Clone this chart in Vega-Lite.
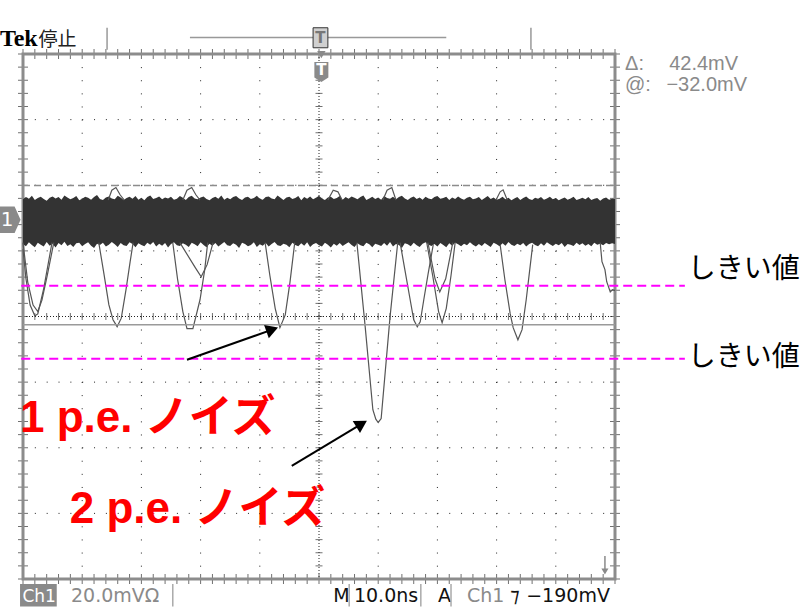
{
 "$schema": "https://vega.github.io/schema/vega-lite/v6.json",
 "width": 592, "height": 525,
 "autosize": {"type": "none"},
 "padding": {"left": 23, "top": 54, "right": 189, "bottom": 28},
 "background": "#ffffff",
 "config": {"view": {"stroke": null}},
 "datasets": {
  "band": [
   {"t":-50,"hi":6.2,"lo":-7.4},{"t":-49.5,"hi":6.9,"lo":-8.1},{"t":-49,"hi":6.4,"lo":-6.9},{"t":-48.5,"hi":7.3,"lo":-7.7},{"t":-48,"hi":6.0,"lo":-8.4},{"t":-47.5,"hi":6.6,"lo":-7.0},{"t":-47,"hi":7.0,"lo":-7.6},{"t":-46.5,"hi":6.3,"lo":-8.2},{"t":-46,"hi":5.8,"lo":-6.8},{"t":-45.5,"hi":6.7,"lo":-7.9},
   {"t":-45,"hi":7.1,"lo":-7.3},{"t":-44.5,"hi":6.5,"lo":-8.5},{"t":-44,"hi":6.9,"lo":-7.1},{"t":-43.5,"hi":6.1,"lo":-7.8},{"t":-43,"hi":7.4,"lo":-6.7},{"t":-42.5,"hi":6.8,"lo":-8.0},{"t":-42,"hi":6.2,"lo":-7.5},{"t":-41.5,"hi":6.6,"lo":-8.3},{"t":-41,"hi":7.2,"lo":-7.2},{"t":-40.5,"hi":5.9,"lo":-7.0},
   {"t":-40,"hi":6.4,"lo":-8.1},{"t":-39.5,"hi":7.0,"lo":-7.4},{"t":-39,"hi":6.7,"lo":-6.9},{"t":-38.5,"hi":6.1,"lo":-7.9},{"t":-38,"hi":6.9,"lo":-8.6},{"t":-37.5,"hi":7.5,"lo":-7.3},{"t":-37,"hi":6.3,"lo":-7.7},{"t":-36.5,"hi":6.0,"lo":-7.0},{"t":-36,"hi":6.8,"lo":-8.2},{"t":-35.5,"hi":7.1,"lo":-7.6},
   {"t":-35,"hi":6.5,"lo":-6.8},{"t":-34.5,"hi":6.2,"lo":-7.5},{"t":-34,"hi":7.3,"lo":-8.3},{"t":-33.5,"hi":6.8,"lo":-7.1},{"t":-33,"hi":6.0,"lo":-7.8},{"t":-32.5,"hi":6.6,"lo":-8.0},{"t":-32,"hi":7.0,"lo":-6.9},{"t":-31.5,"hi":6.4,"lo":-7.4},{"t":-31,"hi":7.2,"lo":-8.4},{"t":-30.5,"hi":6.1,"lo":-7.2},
   {"t":-30,"hi":6.7,"lo":-7.7},{"t":-29.5,"hi":5.9,"lo":-8.1},{"t":-29,"hi":6.9,"lo":-7.0},{"t":-28.5,"hi":7.4,"lo":-7.6},{"t":-28,"hi":6.3,"lo":-6.8},{"t":-27.5,"hi":6.6,"lo":-8.2},{"t":-27,"hi":7.1,"lo":-7.3},{"t":-26.5,"hi":6.2,"lo":-7.9},{"t":-26,"hi":6.8,"lo":-7.1},{"t":-25.5,"hi":6.5,"lo":-8.5},
   {"t":-25,"hi":7.0,"lo":-7.4},{"t":-24.5,"hi":6.1,"lo":-6.9},{"t":-24,"hi":6.4,"lo":-7.8},{"t":-23.5,"hi":7.2,"lo":-8.0},{"t":-23,"hi":6.7,"lo":-7.2},{"t":-22.5,"hi":6.0,"lo":-7.6},{"t":-22,"hi":6.9,"lo":-8.3},{"t":-21.5,"hi":7.3,"lo":-7.0},{"t":-21,"hi":6.5,"lo":-7.5},{"t":-20.5,"hi":6.2,"lo":-8.1},
   {"t":-20,"hi":6.8,"lo":-6.9},{"t":-19.5,"hi":7.1,"lo":-7.7},{"t":-19,"hi":6.3,"lo":-8.4},{"t":-18.5,"hi":5.9,"lo":-7.3},{"t":-18,"hi":6.6,"lo":-7.9},{"t":-17.5,"hi":7.0,"lo":-7.1},{"t":-17,"hi":6.4,"lo":-8.2},{"t":-16.5,"hi":7.4,"lo":-7.5},{"t":-16,"hi":6.1,"lo":-6.8},{"t":-15.5,"hi":6.7,"lo":-7.8},
   {"t":-15,"hi":6.2,"lo":-8.0},{"t":-14.5,"hi":6.9,"lo":-7.2},{"t":-14,"hi":7.2,"lo":-7.6},{"t":-13.5,"hi":6.5,"lo":-8.6},{"t":-13,"hi":6.0,"lo":-7.0},{"t":-12.5,"hi":6.8,"lo":-7.4},{"t":-12,"hi":7.0,"lo":-8.1},{"t":-11.5,"hi":6.3,"lo":-7.7},{"t":-11,"hi":6.6,"lo":-6.9},{"t":-10.5,"hi":7.3,"lo":-8.3},
   {"t":-10,"hi":6.4,"lo":-7.5},{"t":-9.5,"hi":6.1,"lo":-7.9},{"t":-9,"hi":6.9,"lo":-7.1},{"t":-8.5,"hi":7.1,"lo":-8.2},{"t":-8,"hi":6.5,"lo":-7.4},{"t":-7.5,"hi":6.2,"lo":-6.8},{"t":-7,"hi":7.4,"lo":-7.8},{"t":-6.5,"hi":6.7,"lo":-8.0},{"t":-6,"hi":6.0,"lo":-7.3},{"t":-5.5,"hi":6.8,"lo":-7.6},
   {"t":-5,"hi":7.0,"lo":-8.4},{"t":-4.5,"hi":6.3,"lo":-7.0},{"t":-4,"hi":6.6,"lo":-7.7},{"t":-3.5,"hi":7.2,"lo":-8.1},{"t":-3,"hi":5.9,"lo":-7.2},{"t":-2.5,"hi":6.9,"lo":-7.9},{"t":-2,"hi":6.4,"lo":-6.9},{"t":-1.5,"hi":7.1,"lo":-8.3},{"t":-1,"hi":6.2,"lo":-7.5},{"t":-0.5,"hi":6.7,"lo":-7.1},
   {"t":0,"hi":7.3,"lo":-7.8},{"t":0.5,"hi":6.5,"lo":-8.2},{"t":1,"hi":6.0,"lo":-7.0},{"t":1.5,"hi":6.8,"lo":-7.6},{"t":2,"hi":7.0,"lo":-8.5},{"t":2.5,"hi":6.3,"lo":-7.3},{"t":3,"hi":6.6,"lo":-7.9},{"t":3.5,"hi":7.2,"lo":-7.1},{"t":4,"hi":6.1,"lo":-8.0},{"t":4.5,"hi":6.9,"lo":-7.4},
   {"t":5,"hi":6.4,"lo":-6.9},{"t":5.5,"hi":7.1,"lo":-7.7},{"t":6,"hi":6.7,"lo":-8.3},{"t":6.5,"hi":6.2,"lo":-7.2},{"t":7,"hi":6.9,"lo":-7.8},{"t":7.5,"hi":7.4,"lo":-8.1},{"t":8,"hi":6.0,"lo":-7.0},{"t":8.5,"hi":6.5,"lo":-7.5},{"t":9,"hi":7.0,"lo":-8.4},{"t":9.5,"hi":6.3,"lo":-7.3},
   {"t":10,"hi":6.8,"lo":-7.6},{"t":10.5,"hi":6.1,"lo":-8.0},{"t":11,"hi":7.2,"lo":-7.1},{"t":11.5,"hi":6.6,"lo":-7.9},{"t":12,"hi":6.4,"lo":-6.8},{"t":12.5,"hi":7.0,"lo":-8.2},{"t":13,"hi":6.2,"lo":-7.4},{"t":13.5,"hi":6.9,"lo":-7.7},{"t":14,"hi":7.3,"lo":-8.6},{"t":14.5,"hi":6.5,"lo":-7.2},
   {"t":15,"hi":6.0,"lo":-7.5},{"t":15.5,"hi":6.7,"lo":-8.1},{"t":16,"hi":7.1,"lo":-7.0},{"t":16.5,"hi":6.3,"lo":-7.8},{"t":17,"hi":6.8,"lo":-8.3},{"t":17.5,"hi":6.1,"lo":-7.3},{"t":18,"hi":7.0,"lo":-6.9},{"t":18.5,"hi":6.5,"lo":-7.6},{"t":19,"hi":6.2,"lo":-8.0},{"t":19.5,"hi":6.9,"lo":-7.4},
   {"t":20,"hi":7.2,"lo":-8.2},{"t":20.5,"hi":6.4,"lo":-7.1},{"t":21,"hi":6.6,"lo":-7.7},{"t":21.5,"hi":7.0,"lo":-8.4},{"t":22,"hi":6.0,"lo":-7.2},{"t":22.5,"hi":6.8,"lo":-7.9},{"t":23,"hi":6.3,"lo":-7.0},{"t":23.5,"hi":7.1,"lo":-7.5},{"t":24,"hi":6.5,"lo":-8.1},{"t":24.5,"hi":6.1,"lo":-7.3},
   {"t":25,"hi":6.7,"lo":-7.8},{"t":25.5,"hi":7.0,"lo":-6.9},{"t":26,"hi":6.2,"lo":-7.6},{"t":26.5,"hi":6.5,"lo":-8.2},{"t":27,"hi":6.9,"lo":-7.4},{"t":27.5,"hi":6.0,"lo":-8.0},{"t":28,"hi":6.6,"lo":-7.1},{"t":28.5,"hi":7.2,"lo":-7.7},{"t":29,"hi":6.3,"lo":-8.3},{"t":29.5,"hi":6.8,"lo":-7.0},
   {"t":30,"hi":6.1,"lo":-7.5},{"t":30.5,"hi":6.4,"lo":-8.1},{"t":31,"hi":7.0,"lo":-7.2},{"t":31.5,"hi":6.2,"lo":-7.9},{"t":32,"hi":6.7,"lo":-6.8},{"t":32.5,"hi":5.9,"lo":-7.6},{"t":33,"hi":6.5,"lo":-8.0},{"t":33.5,"hi":6.9,"lo":-7.3},{"t":34,"hi":6.0,"lo":-7.8},{"t":34.5,"hi":6.6,"lo":-7.1},
   {"t":35,"hi":7.1,"lo":-8.2},{"t":35.5,"hi":6.3,"lo":-7.4},{"t":36,"hi":6.0,"lo":-7.0},{"t":36.5,"hi":6.7,"lo":-7.7},{"t":37,"hi":6.4,"lo":-8.1},{"t":37.5,"hi":6.9,"lo":-7.2},{"t":38,"hi":6.1,"lo":-7.9},{"t":38.5,"hi":6.5,"lo":-6.9},{"t":39,"hi":7.0,"lo":-7.5},{"t":39.5,"hi":6.2,"lo":-8.0},
   {"t":40,"hi":6.6,"lo":-7.3},{"t":40.5,"hi":5.9,"lo":-7.8},{"t":41,"hi":6.4,"lo":-7.1},{"t":41.5,"hi":6.8,"lo":-8.3},{"t":42,"hi":6.1,"lo":-7.4},{"t":42.5,"hi":6.5,"lo":-7.6},{"t":43,"hi":7.0,"lo":-8.0},{"t":43.5,"hi":6.0,"lo":-7.0},{"t":44,"hi":6.3,"lo":-7.7},{"t":44.5,"hi":6.7,"lo":-7.2},
   {"t":45,"hi":6.2,"lo":-7.9},{"t":45.5,"hi":6.9,"lo":-7.4},{"t":46,"hi":6.0,"lo":-8.1},{"t":46.5,"hi":6.4,"lo":-7.0},{"t":47,"hi":6.6,"lo":-7.6},{"t":47.5,"hi":5.8,"lo":-7.3},{"t":48,"hi":6.5,"lo":-7.8},{"t":48.5,"hi":6.8,"lo":-7.1},{"t":49,"hi":6.1,"lo":-7.5},{"t":49.5,"hi":6.4,"lo":-7.2},
   {"t":50,"hi":6.3,"lo":-7.4}
  ],
  "pulses": [
   {"id":"A1","t":-50.0,"v":-9},{"id":"A1","t":-49.5,"v":-18},{"id":"A1","t":-48.8,"v":-26},{"id":"A1","t":-48.0,"v":-29.3},{"id":"A1","t":-47.5,"v":-28.7},{"id":"A1","t":-46.5,"v":-21},{"id":"A1","t":-45.8,"v":-14},{"id":"A1","t":-45.1,"v":-7},
   {"id":"A2","t":-50.0,"v":-7},{"id":"A2","t":-49.2,"v":-19},{"id":"A2","t":-48.3,"v":-26},{"id":"A2","t":-47.5,"v":-28},{"id":"A2","t":-46.8,"v":-24.5},{"id":"A2","t":-45.9,"v":-17},{"id":"A2","t":-44.8,"v":-7},
   {"id":"B","t":-37.2,"v":-7},{"id":"B","t":-36.3,"v":-16.8},{"id":"B","t":-35.5,"v":-25.9},{"id":"B","t":-34.8,"v":-30.5},{"id":"B","t":-34.1,"v":-32.6},{"id":"B","t":-33.4,"v":-30},{"id":"B","t":-32.6,"v":-21.3},{"id":"B","t":-31.9,"v":-12.8},{"id":"B","t":-31.4,"v":-7},
   {"id":"C","t":-24.7,"v":-7},{"id":"C","t":-23.9,"v":-18},{"id":"C","t":-23.0,"v":-28},{"id":"C","t":-22.3,"v":-33.2},{"id":"C","t":-21.3,"v":-33.2},{"id":"C","t":-20.1,"v":-24.4},{"id":"C","t":-19.3,"v":-15.2},{"id":"C","t":-18.8,"v":-7},
   {"id":"C2","t":-23.5,"v":-7},{"id":"C2","t":-20.9,"v":-14.6},{"id":"C2","t":-19.9,"v":-17.4},{"id":"C2","t":-18.9,"v":-13.7},{"id":"C2","t":-17.9,"v":-7},
   {"id":"D","t":-9.1,"v":-7},{"id":"D","t":-8.3,"v":-17},{"id":"D","t":-7.4,"v":-27},{"id":"D","t":-6.6,"v":-32.9},{"id":"D","t":-5.7,"v":-29},{"id":"D","t":-4.9,"v":-19},{"id":"D","t":-4.1,"v":-7},
   {"id":"E","t":6.4,"v":-7},{"id":"E","t":7.8,"v":-32.6},{"id":"E","t":9.1,"v":-57.9},{"id":"E","t":9.6,"v":-60.8},{"id":"E","t":10.0,"v":-61.8},{"id":"E","t":10.5,"v":-60.6},{"id":"E","t":12.0,"v":-29.6},{"id":"E","t":13.3,"v":-7},
   {"id":"F","t":13.7,"v":-7},{"id":"F","t":14.5,"v":-15.2},{"id":"F","t":15.4,"v":-24.4},{"id":"F","t":16.0,"v":-30.5},{"id":"F","t":16.6,"v":-32.6},{"id":"F","t":17.1,"v":-31.1},{"id":"F","t":17.7,"v":-24.4},{"id":"F","t":18.4,"v":-16.8},{"id":"F","t":19.3,"v":-7.6},
   {"id":"G","t":18.2,"v":-7},{"id":"G","t":19.2,"v":-17},{"id":"G","t":20.2,"v":-28},{"id":"G","t":20.8,"v":-31.4},{"id":"G","t":21.5,"v":-27},{"id":"G","t":22.3,"v":-17},{"id":"G","t":23.0,"v":-7},
   {"id":"G2","t":18.4,"v":-7},{"id":"G2","t":19.6,"v":-18},{"id":"G2","t":20.4,"v":-22.0},{"id":"G2","t":21.4,"v":-18},{"id":"G2","t":22.6,"v":-7},
   {"id":"H","t":30.6,"v":-7.6},{"id":"H","t":31.4,"v":-18.3},{"id":"H","t":32.3,"v":-28.7},{"id":"H","t":32.8,"v":-32.9},{"id":"H","t":33.6,"v":-36.6},{"id":"H","t":34.3,"v":-33.5},{"id":"H","t":35.0,"v":-24.4},{"id":"H","t":35.6,"v":-15.2},{"id":"H","t":36.1,"v":-7.6},
   {"id":"I","t":47.5,"v":-7},{"id":"I","t":47.8,"v":-12.8},{"id":"I","t":48.3,"v":-15.2},{"id":"I","t":48.6,"v":-18.9},{"id":"I","t":49.2,"v":-22.0},{"id":"I","t":49.6,"v":-21.3},{"id":"I","t":50.0,"v":-21.6},
   {"id":"b1","t":-35.6,"v":6},{"id":"b1","t":-35.0,"v":9},{"id":"b1","t":-34.3,"v":9.8},{"id":"b1","t":-33.6,"v":7.6},{"id":"b1","t":-32.9,"v":6},
   {"id":"b2","t":-23.0,"v":6},{"id":"b2","t":-22.3,"v":9},{"id":"b2","t":-21.5,"v":9.8},{"id":"b2","t":-20.8,"v":7.6},{"id":"b2","t":-20.1,"v":6},
   {"id":"b3","t":1.5,"v":6},{"id":"b3","t":2.4,"v":9},{"id":"b3","t":3.2,"v":8.5},{"id":"b3","t":3.9,"v":6},
   {"id":"b4","t":10.8,"v":6},{"id":"b4","t":11.5,"v":9},{"id":"b4","t":12.3,"v":9.8},{"id":"b4","t":13.0,"v":6},
   {"id":"b5","t":29.9,"v":6},{"id":"b5","t":30.6,"v":8.5},{"id":"b5","t":31.1,"v":9.1},{"id":"b5","t":31.8,"v":6}
  ],
  "minorT": [
   {"t":-50},{"t":-48},{"t":-46},{"t":-44},{"t":-42},{"t":-40},{"t":-38},{"t":-36},{"t":-34},{"t":-32},
   {"t":-30},{"t":-28},{"t":-26},{"t":-24},{"t":-22},{"t":-20},{"t":-18},{"t":-16},{"t":-14},{"t":-12},
   {"t":-10},{"t":-8},{"t":-6},{"t":-4},{"t":-2},{"t":0},{"t":2},{"t":4},{"t":6},{"t":8},
   {"t":10},{"t":12},{"t":14},{"t":16},{"t":18},{"t":20},{"t":22},{"t":24},{"t":26},{"t":28},
   {"t":30},{"t":32},{"t":34},{"t":36},{"t":38},{"t":40},{"t":42},{"t":44},{"t":46},{"t":48},{"t":50}
  ],
  "minorV": [
   {"v":50.5},{"v":46.5},{"v":42.5},{"v":38.5},{"v":34.5},{"v":30.5},{"v":26.5},{"v":22.5},{"v":18.5},{"v":14.5},
   {"v":10.5},{"v":6.5},{"v":2.5},{"v":-1.5},{"v":-5.5},{"v":-9.5},{"v":-13.5},{"v":-17.5},{"v":-21.5},{"v":-25.5},
   {"v":-29.5},{"v":-33.5},{"v":-37.5},{"v":-41.5},{"v":-45.5},{"v":-49.5},{"v":-53.5},{"v":-57.5},{"v":-61.5},{"v":-65.5},
   {"v":-69.5},{"v":-73.5},{"v":-77.5},{"v":-81.5},{"v":-85.5},{"v":-89.5},{"v":-93.5},{"v":-97.5},{"v":-101.5},{"v":-105.5},{"v":-109.5}
  ]
 },
 "layer": [
  {"data": {"values": [{"t":-40},{"t":-30},{"t":-20},{"t":-10},{"t":10},{"t":20},{"t":30},{"t":40}]},
   "mark": {"type":"rule","color":"#222222","strokeWidth":1,"strokeDash":[1,12.12]},
   "encoding": {"x":{"field":"t","type":"quantitative","scale":{"domain":[-50,50],"nice":false,"zero":false},"axis":null},
                "y":{"datum":50.5,"type":"quantitative","scale":{"domain":[-109.5,50.5],"nice":false,"zero":false},"axis":null},"y2":{"datum":-109.5}}},
  {"data": {"values": [{"t":0}]},
   "mark": {"type":"rule","color":"#222222","strokeWidth":1,"strokeDash":[1,2]},
   "encoding": {"x":{"field":"t","type":"quantitative","scale":{"domain":[-50,50],"nice":false,"zero":false},"axis":null},
                "y":{"datum":50.5,"type":"quantitative","scale":{"domain":[-109.5,50.5],"nice":false,"zero":false},"axis":null},"y2":{"datum":-109.5}}},
  {"data": {"values": [{"v":30.5},{"v":10.5},{"v":-9.5},{"v":-49.5},{"v":-69.5},{"v":-89.5}]},
   "mark": {"type":"rule","color":"#222222","strokeWidth":1,"strokeDash":[1,10.84]},
   "encoding": {"y":{"field":"v","type":"quantitative","scale":{"domain":[-109.5,50.5],"nice":false,"zero":false},"axis":null},
                "x":{"datum":-50,"type":"quantitative","scale":{"domain":[-50,50],"nice":false,"zero":false},"axis":null},"x2":{"datum":50}}},
  {"data": {"values": [{"v":-29.5}]},
   "mark": {"type":"rule","color":"#222222","strokeWidth":1,"strokeDash":[1,2]},
   "encoding": {"y":{"field":"v","type":"quantitative","scale":{"domain":[-109.5,50.5],"nice":false,"zero":false},"axis":null},
                "x":{"datum":-50,"type":"quantitative","scale":{"domain":[-50,50],"nice":false,"zero":false},"axis":null},"x2":{"datum":50}}},
  {"data": {"name":"minorV"},
   "mark": {"type":"tick","orient":"horizontal","color":"#333333","size":10,"thickness":1},
   "encoding": {"y":{"field":"v","type":"quantitative","scale":{"domain":[-109.5,50.5],"nice":false,"zero":false},"axis":null},
                "x":{"datum":-50,"type":"quantitative","scale":{"domain":[-50,50],"nice":false,"zero":false},"axis":null}}},
  {"data": {"name":"minorV"},
   "mark": {"type":"tick","orient":"horizontal","color":"#333333","size":10,"thickness":1},
   "encoding": {"y":{"field":"v","type":"quantitative","scale":{"domain":[-109.5,50.5],"nice":false,"zero":false},"axis":null},
                "x":{"datum":50,"type":"quantitative","scale":{"domain":[-50,50],"nice":false,"zero":false},"axis":null}}},
  {"data": {"name":"minorV"},
   "mark": {"type":"tick","orient":"horizontal","color":"#333333","size":7,"thickness":1},
   "encoding": {"y":{"field":"v","type":"quantitative","scale":{"domain":[-109.5,50.5],"nice":false,"zero":false},"axis":null},
                "x":{"datum":0,"type":"quantitative","scale":{"domain":[-50,50],"nice":false,"zero":false},"axis":null}}},
  {"data": {"name":"minorT"},
   "mark": {"type":"tick","orient":"vertical","color":"#333333","size":10,"thickness":1},
   "encoding": {"x":{"field":"t","type":"quantitative","scale":{"domain":[-50,50],"nice":false,"zero":false},"axis":null},
                "y":{"datum":50.5,"type":"quantitative","scale":{"domain":[-109.5,50.5],"nice":false,"zero":false},"axis":null}}},
  {"data": {"name":"minorT"},
   "mark": {"type":"tick","orient":"vertical","color":"#333333","size":10,"thickness":1},
   "encoding": {"x":{"field":"t","type":"quantitative","scale":{"domain":[-50,50],"nice":false,"zero":false},"axis":null},
                "y":{"datum":-109.5,"type":"quantitative","scale":{"domain":[-109.5,50.5],"nice":false,"zero":false},"axis":null}}},
  {"data": {"name":"minorT"},
   "mark": {"type":"tick","orient":"vertical","color":"#333333","size":7,"thickness":1},
   "encoding": {"x":{"field":"t","type":"quantitative","scale":{"domain":[-50,50],"nice":false,"zero":false},"axis":null},
                "y":{"datum":-29.5,"type":"quantitative","scale":{"domain":[-109.5,50.5],"nice":false,"zero":false},"axis":null}}},
  {"data": {"values": [{}]},
   "mark": {"type":"rect","fillOpacity":0,"stroke":"#8c8c8c","strokeWidth":3},
   "encoding": {"x":{"datum":-50,"type":"quantitative","scale":{"domain":[-50,50],"nice":false,"zero":false},"axis":null},"x2":{"datum":50},
                "y":{"datum":50.5,"type":"quantitative","scale":{"domain":[-109.5,50.5],"nice":false,"zero":false},"axis":null},"y2":{"datum":-109.5}}},
  {"data": {"name":"band"},
   "mark": {"type":"area","color":"#333333","interpolate":"linear"},
   "encoding": {"x":{"field":"t","type":"quantitative","scale":{"domain":[-50,50],"nice":false,"zero":false},"axis":null},
                "y":{"field":"hi","type":"quantitative","scale":{"domain":[-109.5,50.5],"nice":false,"zero":false},"axis":null},
                "y2":{"field":"lo"}}},
  {"data": {"name":"pulses"},
   "mark": {"type":"line","color":"#555555","strokeWidth":1.2},
   "encoding": {"x":{"field":"t","type":"quantitative","scale":{"domain":[-50,50],"nice":false,"zero":false},"axis":null},
                "y":{"field":"v","type":"quantitative","scale":{"domain":[-109.5,50.5],"nice":false,"zero":false},"axis":null},
                "detail":{"field":"id","type":"nominal"}}},
  {"data": {"values": [{"v":10.4}]},
   "mark": {"type":"rule","color":"#8c8c8c","strokeWidth":1.5,"strokeDash":[7,4]},
   "encoding": {"y":{"field":"v","type":"quantitative","scale":{"domain":[-109.5,50.5],"nice":false,"zero":false},"axis":null},
                "x":{"datum":-50,"type":"quantitative","scale":{"domain":[-50,50],"nice":false,"zero":false},"axis":null},"x2":{"datum":50}}},
  {"data": {"values": [{"v":-32.0}]},
   "mark": {"type":"rule","color":"#9a9a9a","strokeWidth":1.5},
   "encoding": {"y":{"field":"v","type":"quantitative","scale":{"domain":[-109.5,50.5],"nice":false,"zero":false},"axis":null},
                "x":{"datum":-50,"type":"quantitative","scale":{"domain":[-50,50],"nice":false,"zero":false},"axis":null},"x2":{"datum":50}}},
  {"data": {"values": [{"v":-20.1},{"v":-42.4}]},
   "mark": {"type":"rule","color":"#ff00ff","strokeWidth":2,"strokeDash":[9,5]},
   "encoding": {"y":{"field":"v","type":"quantitative","scale":{"domain":[-109.5,50.5],"nice":false,"zero":false},"axis":null},
                "x":{"datum":-50.3,"type":"quantitative","scale":{"domain":[-50,50],"nice":false,"zero":false},"axis":null},"x2":{"datum":61.8}}},
  {"data": {"values": [{"id":"a1","t":-22.3,"v":-42.7},{"id":"a1","t":-7.9,"v":-33.5},{"id":"a2","t":-4.6,"v":-75.0},{"id":"a2","t":7.2,"v":-62.2}]},
   "mark": {"type":"line","color":"#000000","strokeWidth":2},
   "encoding": {"x":{"field":"t","type":"quantitative","scale":{"domain":[-50,50],"nice":false,"zero":false},"axis":null},
                "y":{"field":"v","type":"quantitative","scale":{"domain":[-109.5,50.5],"nice":false,"zero":false},"axis":null},
                "detail":{"field":"id","type":"nominal"}}},
  {"data": {"values": [{"t":-7.9,"v":-33.5}]},
   "mark": {"type":"point","shape":"triangle-up","filled":true,"color":"#000000","opacity":1,"size":200,"angle":70.6},
   "encoding": {"x":{"field":"t","type":"quantitative","scale":{"domain":[-50,50],"nice":false,"zero":false},"axis":null},
                "y":{"field":"v","type":"quantitative","scale":{"domain":[-109.5,50.5],"nice":false,"zero":false},"axis":null}}},
  {"data": {"values": [{"t":7.2,"v":-62.2}]},
   "mark": {"type":"point","shape":"triangle-up","filled":true,"color":"#000000","opacity":1,"size":200,"angle":59},
   "encoding": {"x":{"field":"t","type":"quantitative","scale":{"domain":[-50,50],"nice":false,"zero":false},"axis":null},
                "y":{"field":"v","type":"quantitative","scale":{"domain":[-109.5,50.5],"nice":false,"zero":false},"axis":null}}},
  {"data": {"values": [{"t":-50.5,"v":-64.6,"text":"1 p.e. ノイズ"},{"t":-42.1,"v":-92.4,"text":"2 p.e. ノイズ"}]},
   "mark": {"type":"text","align":"left","baseline":"alphabetic","color":"#ff0000","fontSize":44,"fontWeight":"bold","font":"Liberation Sans, Noto Sans CJK JP"},
   "encoding": {"x":{"field":"t","type":"quantitative","scale":{"domain":[-50,50],"nice":false,"zero":false},"axis":null},
                "y":{"field":"v","type":"quantitative","scale":{"domain":[-109.5,50.5],"nice":false,"zero":false},"axis":null},
                "text":{"field":"text"}}},
  {"data": {"values": [{"t":62.3,"v":-15.2,"text":"しきい値"},{"t":62.3,"v":-42.1,"text":"しきい値"}]},
   "mark": {"type":"text","align":"left","baseline":"middle","color":"#000000","fontSize":28,"font":"Noto Sans CJK JP"},
   "encoding": {"x":{"field":"t","type":"quantitative","scale":{"domain":[-50,50],"nice":false,"zero":false},"axis":null},
                "y":{"field":"v","type":"quantitative","scale":{"domain":[-109.5,50.5],"nice":false,"zero":false},"axis":null},
                "text":{"field":"text"}}},
  {"data": {"values": [{"t":-53.9,"v":52.9,"text":"Tek"}]},
   "mark": {"type":"text","align":"left","baseline":"alphabetic","color":"#000000","fontSize":24,"fontWeight":"bold","font":"Liberation Serif"},
   "encoding": {"x":{"field":"t","type":"quantitative","scale":{"domain":[-50,50],"nice":false,"zero":false},"axis":null},
                "y":{"field":"v","type":"quantitative","scale":{"domain":[-109.5,50.5],"nice":false,"zero":false},"axis":null},
                "text":{"field":"text"}}},
  {"data": {"values": [{"t":-47.4,"v":52.9,"text":"停止"}]},
   "mark": {"type":"text","align":"left","baseline":"alphabetic","color":"#222222","fontSize":19,"font":"Noto Sans CJK JP"},
   "encoding": {"x":{"field":"t","type":"quantitative","scale":{"domain":[-50,50],"nice":false,"zero":false},"axis":null},
                "y":{"field":"v","type":"quantitative","scale":{"domain":[-109.5,50.5],"nice":false,"zero":false},"axis":null},
                "text":{"field":"text"}}},
  {"data": {"values": [{"t":-35.8,"v":58.5,"v2":51.8},{"t":35.8,"v":58.5,"v2":51.8}]},
   "mark": {"type":"rule","color":"#999999","strokeWidth":1.5},
   "encoding": {"x":{"field":"t","type":"quantitative","scale":{"domain":[-50,50],"nice":false,"zero":false},"axis":null},
                "y":{"field":"v","type":"quantitative","scale":{"domain":[-109.5,50.5],"nice":false,"zero":false},"axis":null},"y2":{"field":"v2"}}},
  {"data": {"values": [{"t":-21.8,"t2":21.5,"v":55.5}]},
   "mark": {"type":"rule","color":"#999999","strokeWidth":1.5},
   "encoding": {"x":{"field":"t","type":"quantitative","scale":{"domain":[-50,50],"nice":false,"zero":false},"axis":null},"x2":{"field":"t2"},
                "y":{"field":"v","type":"quantitative","scale":{"domain":[-109.5,50.5],"nice":false,"zero":false},"axis":null}}},
  {"data": {"values": [{"t":-1.0,"t2":1.5,"v":58.5,"v2":52.4}]},
   "mark": {"type":"rect","fill":"#d0d0d0","stroke":"#333333","strokeWidth":1},
   "encoding": {"x":{"field":"t","type":"quantitative","scale":{"domain":[-50,50],"nice":false,"zero":false},"axis":null},"x2":{"field":"t2"},
                "y":{"field":"v","type":"quantitative","scale":{"domain":[-109.5,50.5],"nice":false,"zero":false},"axis":null},"y2":{"field":"v2"}}},
  {"data": {"values": [{"t":0.25,"v":55.4,"text":"T"}]},
   "mark": {"type":"text","align":"center","baseline":"middle","color":"#777777","fontSize":15,"fontWeight":"bold","font":"DejaVu Sans"},
   "encoding": {"x":{"field":"t","type":"quantitative","scale":{"domain":[-50,50],"nice":false,"zero":false},"axis":null},
                "y":{"field":"v","type":"quantitative","scale":{"domain":[-109.5,50.5],"nice":false,"zero":false},"axis":null},
                "text":{"field":"text"}}},
  {"data": {"values": [{"t":0.4,"v":50.3}]},
   "mark": {"type":"point","shape":"triangle-down","filled":true,"color":"#8a8a8a","opacity":1,"size":70},
   "encoding": {"x":{"field":"t","type":"quantitative","scale":{"domain":[-50,50],"nice":false,"zero":false},"axis":null},
                "y":{"field":"v","type":"quantitative","scale":{"domain":[-109.5,50.5],"nice":false,"zero":false},"axis":null}}},
  {"data": {"values": [{"t":0.4,"v":45.0}]},
   "mark": {"type":"point","shape":"M-0.7,-1 L0.7,-1 L0.7,0.55 L0,1 L-0.7,0.55 Z","filled":true,"color":"#8a8a8a","opacity":1,"size":400},
   "encoding": {"x":{"field":"t","type":"quantitative","scale":{"domain":[-50,50],"nice":false,"zero":false},"axis":null},
                "y":{"field":"v","type":"quantitative","scale":{"domain":[-109.5,50.5],"nice":false,"zero":false},"axis":null}}},
  {"data": {"values": [{"t":0.4,"v":45.6,"text":"T"}]},
   "mark": {"type":"text","align":"center","baseline":"middle","color":"#ffffff","fontSize":15,"fontWeight":"bold","font":"DejaVu Sans"},
   "encoding": {"x":{"field":"t","type":"quantitative","scale":{"domain":[-50,50],"nice":false,"zero":false},"axis":null},
                "y":{"field":"v","type":"quantitative","scale":{"domain":[-109.5,50.5],"nice":false,"zero":false},"axis":null},
                "text":{"field":"text"}}},
  {"data": {"values": [{"t":-52.2,"v":0}]},
   "mark": {"type":"point","shape":"M-0.8,-1 L0.35,-1 L0.8,0 L0.35,1 L-0.8,1 Z","filled":true,"color":"#8a8a8a","opacity":1,"size":700},
   "encoding": {"x":{"field":"t","type":"quantitative","scale":{"domain":[-50,50],"nice":false,"zero":false},"axis":null},
                "y":{"field":"v","type":"quantitative","scale":{"domain":[-109.5,50.5],"nice":false,"zero":false},"axis":null}}},
  {"data": {"values": [{"t":-52.7,"v":0,"text":"1"}]},
   "mark": {"type":"text","align":"center","baseline":"middle","color":"#ffffff","fontSize":20,"font":"DejaVu Sans"},
   "encoding": {"x":{"field":"t","type":"quantitative","scale":{"domain":[-50,50],"nice":false,"zero":false},"axis":null},
                "y":{"field":"v","type":"quantitative","scale":{"domain":[-109.5,50.5],"nice":false,"zero":false},"axis":null},
                "text":{"field":"text"}}},
  {"data": {"values": [{"t":51.7,"v":45.7,"text":"Δ:"},{"t":51.7,"v":39.3,"text":"@:"}]},
   "mark": {"type":"text","align":"left","baseline":"alphabetic","color":"#8a8a8a","fontSize":20,"font":"Liberation Sans"},
   "encoding": {"x":{"field":"t","type":"quantitative","scale":{"domain":[-50,50],"nice":false,"zero":false},"axis":null},
                "y":{"field":"v","type":"quantitative","scale":{"domain":[-109.5,50.5],"nice":false,"zero":false},"axis":null},
                "text":{"field":"text"}}},
  {"data": {"values": [{"t":70.8,"v":45.7,"text":"42.4mV"},{"t":72.3,"v":39.3,"text":"−32.0mV"}]},
   "mark": {"type":"text","align":"right","baseline":"alphabetic","color":"#8a8a8a","fontSize":20,"font":"Liberation Sans"},
   "encoding": {"x":{"field":"t","type":"quantitative","scale":{"domain":[-50,50],"nice":false,"zero":false},"axis":null},
                "y":{"field":"v","type":"quantitative","scale":{"domain":[-109.5,50.5],"nice":false,"zero":false},"axis":null},
                "text":{"field":"text"}}},
  {"data": {"values": [{"t":-50.5,"t2":-44.3,"v":-111.0,"v2":-117.9}]},
   "mark": {"type":"rect","fill":"#8a8a8a"},
   "encoding": {"x":{"field":"t","type":"quantitative","scale":{"domain":[-50,50],"nice":false,"zero":false},"axis":null},"x2":{"field":"t2"},
                "y":{"field":"v","type":"quantitative","scale":{"domain":[-109.5,50.5],"nice":false,"zero":false},"axis":null},"y2":{"field":"v2"}}},
  {"data": {"values": [{"t":-50.1,"v":-116.6,"text":"Ch1"}]},
   "mark": {"type":"text","align":"left","baseline":"alphabetic","color":"#ffffff","fontSize":17,"font":"DejaVu Sans"},
   "encoding": {"x":{"field":"t","type":"quantitative","scale":{"domain":[-50,50],"nice":false,"zero":false},"axis":null},
                "y":{"field":"v","type":"quantitative","scale":{"domain":[-109.5,50.5],"nice":false,"zero":false},"axis":null},
                "text":{"field":"text"}}},
  {"data": {"values": [{"t":-41.9,"v":-116.6,"text":"20.0mVΩ"},{"t":25.0,"v":-116.6,"text":"Ch1"}]},
   "mark": {"type":"text","align":"left","baseline":"alphabetic","color":"#8a8a8a","fontSize":19,"font":"DejaVu Sans"},
   "encoding": {"x":{"field":"t","type":"quantitative","scale":{"domain":[-50,50],"nice":false,"zero":false},"axis":null},
                "y":{"field":"v","type":"quantitative","scale":{"domain":[-109.5,50.5],"nice":false,"zero":false},"axis":null},
                "text":{"field":"text"}}},
  {"data": {"values": [{"t":2.4,"v":-116.6,"text":"M"},{"t":5.9,"v":-116.6,"text":"10.0ns"},{"t":20.1,"v":-116.6,"text":"A"},{"t":32.3,"v":-116.6,"text":"⁊"},{"t":35.0,"v":-116.6,"text":"−190mV"}]},
   "mark": {"type":"text","align":"left","baseline":"alphabetic","color":"#111111","fontSize":19,"font":"DejaVu Sans"},
   "encoding": {"x":{"field":"t","type":"quantitative","scale":{"domain":[-50,50],"nice":false,"zero":false},"axis":null},
                "y":{"field":"v","type":"quantitative","scale":{"domain":[-109.5,50.5],"nice":false,"zero":false},"axis":null},
                "text":{"field":"text"}}},
  {"data": {"values": [{"t":-24.7,"v":-111.0,"v2":-117.9},{"t":5.1,"v":-111.0,"v2":-117.9},{"t":17.2,"v":-111.0,"v2":-117.9},{"t":22.3,"v":-111.0,"v2":-117.9}]},
   "mark": {"type":"rule","color":"#aaaaaa","strokeWidth":1.5},
   "encoding": {"x":{"field":"t","type":"quantitative","scale":{"domain":[-50,50],"nice":false,"zero":false},"axis":null},
                "y":{"field":"v","type":"quantitative","scale":{"domain":[-109.5,50.5],"nice":false,"zero":false},"axis":null},"y2":{"field":"v2"}}},
  {"data": {"values": [{"t":48.3,"v":-102.5,"v2":-106.5}]},
   "mark": {"type":"rule","color":"#8a8a8a","strokeWidth":1.5},
   "encoding": {"x":{"field":"t","type":"quantitative","scale":{"domain":[-50,50],"nice":false,"zero":false},"axis":null},
                "y":{"field":"v","type":"quantitative","scale":{"domain":[-109.5,50.5],"nice":false,"zero":false},"axis":null},"y2":{"field":"v2"}}},
  {"data": {"values": [{"t":48.3,"v":-107.2}]},
   "mark": {"type":"point","shape":"triangle-down","filled":true,"color":"#8a8a8a","opacity":1,"size":50},
   "encoding": {"x":{"field":"t","type":"quantitative","scale":{"domain":[-50,50],"nice":false,"zero":false},"axis":null},
                "y":{"field":"v","type":"quantitative","scale":{"domain":[-109.5,50.5],"nice":false,"zero":false},"axis":null}}}
 ]
}
